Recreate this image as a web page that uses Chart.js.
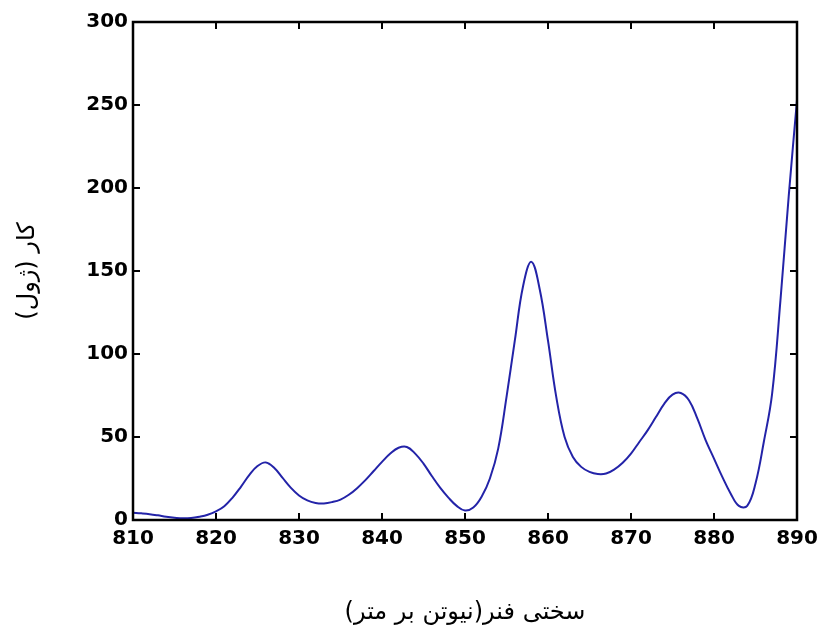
<!DOCTYPE html>
<html>
<head>
<meta charset="utf-8">
<script src="https://cdn.jsdelivr.net/npm/chart.js@4.4.1/dist/chart.umd.min.js"></script>
<style>
  html, body { margin: 0; padding: 0; background: #fff; }
  #wrap { width: 820px; height: 629px; position: relative; }
</style>
</head>
<body>
<div id="wrap"><canvas id="workChart"></canvas></div>
<script>
// spring stiffness (N/m) and work (J)
const stiffness = [
    810, 811, 812, 813, 814, 815, 816, 817, 818, 819,
    820, 821, 822, 823, 824, 825, 826, 827, 828, 829,
    830, 831, 832, 833, 834, 835, 836, 837, 838, 839,
    840, 841, 842, 843, 844, 845, 846, 847, 848, 849,
    850, 851, 852, 853, 854, 855, 856, 857, 858, 859,
    860, 861, 862, 863, 864, 865, 866, 867, 868, 869,
    870, 871, 872, 873, 874, 875, 876, 877, 878, 879,
    880, 881, 882, 883, 884, 885, 886, 887, 888, 889,
    890
];
const work = [
    4.4, 4.0, 3.5, 2.8, 2.0, 1.4, 1.0, 1.2, 2.0, 3.2,
    5.2, 8.3, 13.5, 20, 27, 32.5, 34.7, 31.5, 25.5, 19.5,
    14.8, 11.8, 10.3, 10.0, 10.8, 12.3, 15.2, 19.2, 24, 29.5,
    35, 40, 43.5, 44, 40, 34, 26.5, 19.5, 13.5, 8.5,
    5.7, 7.5, 14, 25, 43, 74, 108, 141, 155.5, 139,
    108, 74, 50, 38, 32, 29, 27.7, 28, 30.5, 34.5,
    40, 47, 54, 62, 70, 75.5, 76.5, 72, 61, 48,
    37, 26, 16, 8.5, 8.5, 22, 47, 76, 132, 195,
    253
];
const xTicks = [810, 820, 830, 840, 850, 860, 870, 880, 890];
const yTicks = [0, 50, 100, 150, 200, 250, 300];

const xTitle = 'سختی فنر(نیوتن بر متر)';
const yTitle = 'کار (ژول)';

// box round the plot + inward ticks on all four sides (matlab look)
const frameBox = {
    id: 'frameBox',
    afterDraw(chart) {
        const { ctx, chartArea: a, scales } = chart;
        const len = 7;
        ctx.save();
        ctx.strokeStyle = '#000';
        ctx.lineWidth = 2;
        xTicks.forEach(v => {
            const px = scales.x.getPixelForValue(v);
            ctx.beginPath();
            ctx.moveTo(px, a.bottom); ctx.lineTo(px, a.bottom - len);
            ctx.moveTo(px, a.top); ctx.lineTo(px, a.top + len);
            ctx.stroke();
        });
        yTicks.forEach(v => {
            const py = scales.y.getPixelForValue(v);
            ctx.beginPath();
            ctx.moveTo(a.left, py); ctx.lineTo(a.left + len, py);
            ctx.moveTo(a.right, py); ctx.lineTo(a.right - len, py);
            ctx.stroke();
        });
        ctx.lineWidth = 2.5;
        ctx.strokeRect(a.left, a.top, a.right - a.left, a.bottom - a.top);
        ctx.restore();
    }
};

const tickFont = { family: '"DejaVu Sans", sans-serif', size: 20, weight: 'bold' };
const titleFont = { family: '"DejaVu Sans", sans-serif', size: 24 };

const ctx = document.getElementById('workChart').getContext('2d');
new Chart(ctx, {
    type: 'line',
    data: {
        datasets: [{
            data: stiffness.map((s, i) => ({ x: s, y: work[i] })),
            borderColor: '#2323a8',
            borderWidth: 2,
            pointRadius: 0,
            fill: false,
            tension: 0.4
        }]
    },
    options: {
        responsive: true,
        maintainAspectRatio: false,
        animation: false,
        layout: { padding: { top: 22, right: 23, left: 0, bottom: 0 } },
        plugins: {
            legend: { display: false },
            tooltip: { enabled: false }
        },
        scales: {
            x: {
                type: 'linear',
                min: 810,
                max: 890,
                afterFit: s => { s.height = 109; s.paddingLeft = 0; s.paddingRight = 0; },
                afterBuildTicks: s => { s.ticks = xTicks.map(v => ({ value: v })); },
                grid: { display: false, drawTicks: false },
                border: { display: false },
                ticks: { color: '#000', font: tickFont, padding: 7, maxRotation: 0 },
                title: { display: true, text: xTitle, color: '#000', font: titleFont, padding: { top: 0, bottom: 2 } }
            },
            y: {
                min: 0,
                max: 300,
                afterFit: s => { s.width = 133; s.paddingTop = 0; s.paddingBottom = 0; },
                afterBuildTicks: s => { s.ticks = yTicks.map(v => ({ value: v })); },
                grid: { display: false, drawTicks: false },
                border: { display: false },
                ticks: { color: '#000', font: tickFont, padding: 5 },
                title: { display: true, text: yTitle, color: '#000', font: titleFont, padding: { top: 13, bottom: 0 } }
            }
        }
    },
    plugins: [frameBox]
});
</script>
</body>
</html>
